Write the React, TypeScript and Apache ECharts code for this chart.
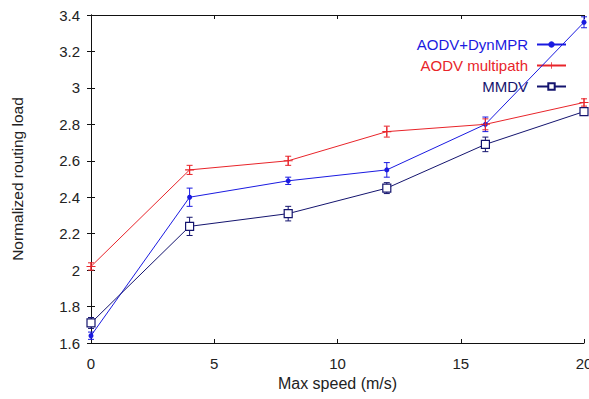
import React, { useEffect, useRef } from "react";
import * as echarts from "echarts";

const speeds = [0, 4, 8, 12, 16, 20];
const dynMpr = [1.64, 2.4, 2.49, 2.55, 2.8, 3.36];
const dynMprErr = [0.02, 0.05, 0.02, 0.04, 0.04, 0.03];
const multipath = [2.02, 2.55, 2.6, 2.76, 2.8, 2.92];
const multipathErr = [0.02, 0.025, 0.025, 0.03, 0.03, 0.02];
const mmdv = [1.71, 2.24, 2.31, 2.45, 2.69, 2.87];
const mmdvErr = [0.03, 0.05, 0.04, 0.03, 0.04, 0.02];

const names = ["AODV+DynMPR", "AODV multipath", "MMDV"];
const colors = ["#1a1ae0", "#e8242a", "#14146e"];

const FONT = "Liberation Sans, Arial, sans-serif";

function errSeries(vals: number[], errs: number[], color: string) {
  return {
    type: "custom",
    silent: true,
    z: 3,
    data: speeds.map((s, i) => [s, vals[i] - errs[i], vals[i] + errs[i]]),
    renderItem: (params: any, api: any) => {
      const x = api.value(0);
      const lo = api.coord([x, api.value(1)]);
      const hi = api.coord([x, api.value(2)]);
      const w = 3;
      const style = { stroke: color, lineWidth: 1, fill: "none" };
      return {
        type: "group",
        children: [
          { type: "line", shape: { x1: lo[0], y1: lo[1], x2: hi[0], y2: hi[1] }, style },
          { type: "line", shape: { x1: lo[0] - w, y1: lo[1], x2: lo[0] + w, y2: lo[1] }, style },
          { type: "line", shape: { x1: hi[0] - w, y1: hi[1], x2: hi[0] + w, y2: hi[1] }, style },
        ],
      };
    },
  };
}

const plusPath = "path://M4.4,0H5.6V4.4H10V5.6H5.6V10H4.4V5.6H0V4.4H4.4Z";

export default function App() {
  const ref = useRef<HTMLDivElement>(null);
  useEffect(() => {
    if (!ref.current) return;
    const chart = echarts.init(ref.current, undefined, { renderer: "svg" });
    const axisLabel = { color: "#222", fontFamily: FONT, fontSize: 15 };
    chart.setOption({
      animation: false,
      backgroundColor: "#fff",
      grid: { left: 91, right: 5, top: 15, bottom: 56, outerBoundsMode: "none" },
      legend: {
        orient: "vertical",
        right: 17,
        top: 32,
        align: "right",
        itemWidth: 29,
        itemHeight: 8,
        itemGap: 6,
        textStyle: { fontFamily: FONT, fontSize: 15, padding: [0, 4, 0, 0] },
        data: names.map((n, i) => ({ name: n, textStyle: { color: colors[i] } })),
      },
      xAxis: [
        {
          type: "value",
          min: 0,
          max: 20,
          interval: 5,
          name: "Max speed (m/s)",
          nameLocation: "middle",
          nameGap: 31,
          nameTextStyle: { color: "#222", fontFamily: FONT, fontSize: 16 },
          axisLine: { lineStyle: { color: "#111", width: 1 } },
          axisTick: { inside: true, length: 4, lineStyle: { color: "#111" } },
          axisLabel: { ...axisLabel, margin: 13 },
          splitLine: { show: false },
        },
        {
          type: "value",
          min: 0,
          max: 20,
          interval: 5,
          position: "top",
          axisLine: { lineStyle: { color: "#111", width: 1 } },
          axisTick: { inside: true, length: 4, lineStyle: { color: "#111" } },
          axisLabel: { show: false },
          splitLine: { show: false },
        },
      ],
      yAxis: [
        {
          type: "value",
          min: 1.6,
          max: 3.4,
          interval: 0.2,
          name: "Normalized routing load",
          nameLocation: "middle",
          nameGap: 66,
          nameTextStyle: { color: "#222", fontFamily: FONT, fontSize: 15.5 },
          axisLine: { show: true, lineStyle: { color: "#111", width: 1 } },
          axisTick: { show: true, inside: true, length: 4, lineStyle: { color: "#111" } },
          axisLabel: { ...axisLabel, margin: 11 },
          splitLine: { show: false },
        },
        {
          type: "value",
          min: 1.6,
          max: 3.4,
          interval: 0.2,
          position: "right",
          axisLine: { show: true, lineStyle: { color: "#111", width: 1 } },
          axisTick: { show: true, inside: true, length: 4, lineStyle: { color: "#111" } },
          axisLabel: { show: false },
          splitLine: { show: false },
        },
      ],
      series: [
        {
          name: names[0],
          type: "line",
          data: speeds.map((s, i) => [s, dynMpr[i]]),
          symbol: "circle",
          symbolSize: 5,
          showSymbol: true,
          color: colors[0],
          lineStyle: { width: 1, color: colors[0] },
          itemStyle: { color: colors[0] },
          z: 4,
        },
        {
          name: names[1],
          type: "line",
          data: speeds.map((s, i) => [s, multipath[i]]),
          symbol: plusPath,
          symbolSize: 9,
          color: colors[1],
          lineStyle: { width: 1, color: colors[1] },
          itemStyle: { color: colors[1] },
          z: 4,
        },
        {
          name: names[2],
          type: "line",
          data: speeds.map((s, i) => [s, mmdv[i]]),
          symbol: "rect",
          symbolSize: 8,
          color: colors[2],
          lineStyle: { width: 1, color: colors[2] },
          itemStyle: { color: "#fff", borderColor: colors[2], borderWidth: 1.2 },
          z: 4,
        },
        errSeries(dynMpr, dynMprErr, colors[0]),
        errSeries(multipath, multipathErr, colors[1]),
        errSeries(mmdv, mmdvErr, colors[2]),
      ],
    });
    return () => chart.dispose();
  }, []);
  return <div ref={ref} style={{ width: 589, height: 399, position: "absolute", left: 0, top: 0 }} />;
}
